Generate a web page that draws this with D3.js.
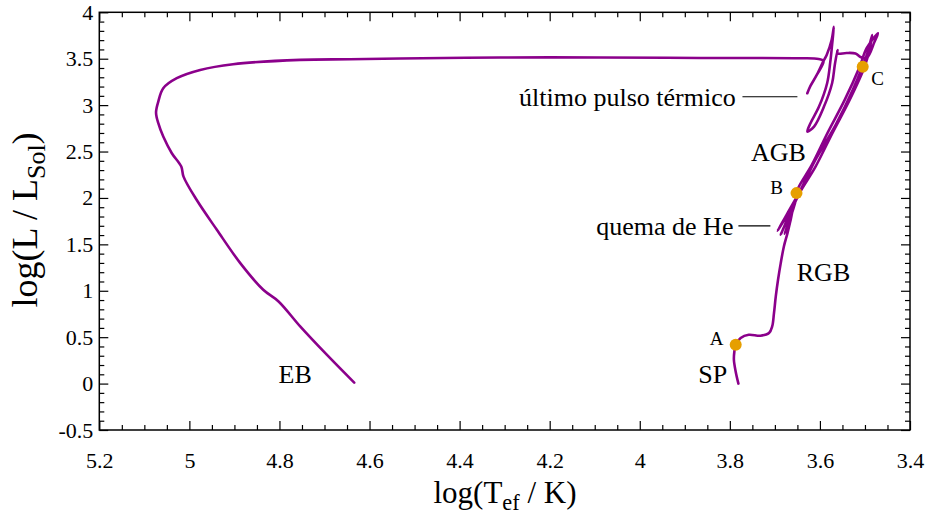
<!DOCTYPE html>
<html><head><meta charset="utf-8">
<script src="https://cdn.jsdelivr.net/npm/d3@7"></script>
<style>
body{margin:0;background:#fff}
text{font-family:"Liberation Serif","Times New Roman",serif;fill:#000}
</style>
</head><body>
<svg id="c" width="936" height="518"></svg>
<script>
// ---- data (log Teff, log L/Lsun) ----
const trackLogT = [
  3.781,3.787,3.791,3.790,3.787,3.776,3.758,3.732,3.713,3.706,3.702,3.698,3.693,3.687,3.680,3.672,
  3.665,3.658,3.645,3.610,3.572,3.534,3.501,3.490,3.484,
  3.496,3.527,3.565,3.610,3.643,3.674,3.694,3.667,3.687,3.661,3.678,3.654,
  3.650,3.618,3.583,3.545,3.512,3.496,3.471,3.479,3.496,3.510,3.521,3.541,3.561,
  3.561,3.567,3.573,3.591,3.613,3.628,3.621,3.602,3.584,3.577,3.573,3.569,3.574,3.585,3.592,
  3.607,3.621,3.628,3.621,3.607,3.592,
  3.603,3.643,3.865,4.087,4.310,4.532,4.643,4.754,4.903,4.976,5.028,5.058,5.069,5.074,
  5.069,5.058,5.039,5.018,5.013,4.984,4.939,4.887,4.836,4.802,4.754,4.695,4.634
];
const trackLogL = [
  0.000,0.128,0.257,0.343,0.419,0.491,0.526,0.516,0.545,0.616,0.760,0.939,1.118,1.298,1.477,1.621,
  1.764,1.915,2.055,2.335,2.701,3.056,3.411,3.594,3.756,
  3.540,3.164,2.787,2.410,2.087,1.818,1.646,1.850,1.603,1.893,1.614,1.969,
  2.087,2.356,2.701,3.056,3.411,3.616,3.774,3.680,3.508,3.519,3.556,3.562,3.556,
  3.594,3.433,3.236,2.984,2.769,2.715,2.805,2.984,3.236,3.465,3.648,3.845,3.702,3.540,3.476,
  3.325,3.207,3.128,3.207,3.325,3.476,
  3.497,3.505,3.508,3.513,3.513,3.503,3.494,3.487,3.441,3.379,3.290,3.182,3.038,2.919,
  2.805,2.661,2.482,2.338,2.230,1.980,1.657,1.298,1.011,0.885,0.616,0.311,0.010
];
const markerNames = ["A","B","C"];
const markerLogT = [3.787,3.652,3.505];
const markerLogL = [0.419,2.052,3.414];
const xTickValues = [5.2,5.0,4.8,4.6,4.4,4.2,4.0,3.8,3.6,3.4];
const xTickLabels = ["5.2","5","4.8","4.6","4.4","4.2","4","3.8","3.6","3.4"];
const yTickValues = [-0.5,0,0.5,1,1.5,2,2.5,3,3.5,4];
const yTickLabels = ["-0.5","0","0.5","1","1.5","2","2.5","3","3.5","4"];
const phaseLabels = ["EB","SP","RGB","AGB"];
const pointerLabels = ["último pulso térmico","quema de He"];

// ---- layout ----
const svg = d3.select("#c");
const L = 99.3, R = 910, T = 12.3, B = 430;
const x = d3.scaleLinear().domain([5.2,3.4]).range([L,R]);
const y = d3.scaleLinear().domain([-0.5,4]).range([B,T]);
const purple = "#8b008b", orange = "#e69f00";
const serif = '"Liberation Serif","Times New Roman",serif';

const xMinor = d3.range(0,37).map(i=>+(3.4+i*0.05).toFixed(2)).filter(v=>!xTickValues.some(t=>Math.abs(t-v)<1e-6));
const yMinor = d3.range(0,46).map(i=>+(-0.5+i*0.1).toFixed(2)).filter(v=>!yTickValues.some(t=>Math.abs(t-v)<1e-6));

function styleAxis(g){ g.attr("font-family",serif); g.select(".domain").remove(); g.selectAll(".tick line").attr("stroke","#000").attr("stroke-width",1.2); }
const fs = 22;
function styleLabels(g){ g.selectAll("text").style("font-family",serif).attr("font-size",fs).attr("fill","#000"); }
svg.append("g").attr("transform",`translate(0,${B})`)
  .call(d3.axisBottom(x).tickValues(xTickValues).tickSize(-9).tickPadding(22).tickFormat((d,i)=>xTickLabels[i]))
  .call(styleAxis).call(styleLabels);
svg.append("g").attr("transform",`translate(0,${B})`)
  .call(d3.axisBottom(x).tickValues(xMinor).tickSize(-5).tickFormat("")).call(styleAxis);
svg.append("g").attr("transform",`translate(0,${T})`)
  .call(d3.axisTop(x).tickValues(xTickValues).tickSize(-9).tickFormat("")).call(styleAxis);
svg.append("g").attr("transform",`translate(0,${T})`)
  .call(d3.axisTop(x).tickValues(xMinor).tickSize(-5).tickFormat("")).call(styleAxis);
svg.append("g").attr("transform",`translate(${L},0)`)
  .call(d3.axisLeft(y).tickValues(yTickValues).tickSize(-9).tickPadding(6).tickFormat((d,i)=>yTickLabels[i]))
  .call(styleAxis).call(styleLabels);
svg.append("g").attr("transform",`translate(${L},0)`)
  .call(d3.axisLeft(y).tickValues(yMinor).tickSize(-5).tickFormat("")).call(styleAxis);
svg.append("g").attr("transform",`translate(${R},0)`)
  .call(d3.axisRight(y).tickValues(yTickValues).tickSize(-9).tickFormat("")).call(styleAxis);
svg.append("g").attr("transform",`translate(${R},0)`)
  .call(d3.axisRight(y).tickValues(yMinor).tickSize(-5).tickFormat("")).call(styleAxis);

svg.append("rect").attr("x",L).attr("y",T).attr("width",R-L).attr("height",B-T)
  .attr("fill","none").attr("stroke","#000").attr("stroke-width",1.5);

// track
const pts = trackLogT.map((t,i)=>[t,trackLogL[i]]);
svg.append("path").datum(pts)
  .attr("d", d3.line().x(d=>x(d[0])).y(d=>y(d[1])).curve(d3.curveCatmullRom.alpha(0.5)))
  .attr("fill","none").attr("stroke",purple).attr("stroke-width",2.6)
  .attr("stroke-linejoin","round").attr("stroke-linecap","round");

// markers
svg.selectAll("circle.m").data(markerNames).join("circle")
  .attr("cx",(d,i)=>x(markerLogT[i])).attr("cy",(d,i)=>y(markerLogL[i])).attr("r",6).attr("fill",orange);
const markerOffsets = [[-19,-6],[-20,-5],[15,12]];
svg.selectAll("text.m").data(markerNames).join("text")
  .attr("x",(d,i)=>x(markerLogT[i])+markerOffsets[i][0]).attr("y",(d,i)=>y(markerLogL[i])+markerOffsets[i][1]+6)
  .attr("text-anchor","middle").attr("font-size",19).text(d=>d);

// phase labels (data coords)
const phasePos = [[4.765,0.1],[3.838,0.1],[3.592,1.2],[3.692,2.50]];
const afs = 26;
svg.selectAll("text.p").data(phaseLabels).join("text")
  .attr("x",(d,i)=>x(phasePos[i][0])).attr("y",(d,i)=>y(phasePos[i][1])+9)
  .attr("text-anchor","middle").attr("font-size",afs).text(d=>d);

// pointer labels: [text right-end logT, logL, line start logT, line end logT]
const ptrPos = [[3.787,3.09,3.772,3.650],[3.792,1.70,3.781,3.710]];
pointerLabels.forEach((s,i)=>{
  const p = ptrPos[i];
  svg.append("text").attr("x",x(p[0])).attr("y",y(p[1])+9).attr("text-anchor","end").attr("font-size",afs).text(s);
  svg.append("line").attr("x1",x(p[2])).attr("x2",x(p[3])).attr("y1",y(p[1])).attr("y2",y(p[1]))
    .attr("stroke","#000").attr("stroke-width",1.2);
});

// axis titles
const xfs = 31, yfs = 36;
const xt = svg.append("text").attr("x",505).attr("y",503).attr("text-anchor","middle").attr("font-size",xfs);
xt.append("tspan").text("log(T");
xt.append("tspan").attr("font-size",xfs*0.72).attr("dy",7).text("ef");
xt.append("tspan").attr("dy",-7).text(" / K)");
const yt = svg.append("text").attr("transform",`translate(37,220) rotate(-90)`).attr("text-anchor","middle").attr("font-size",yfs);
yt.append("tspan").text("log(L / L");
yt.append("tspan").attr("font-size",yfs*0.72).attr("dy",8).text("Sol");
yt.append("tspan").attr("dy",-8).text(")");
</script>
</body></html>
